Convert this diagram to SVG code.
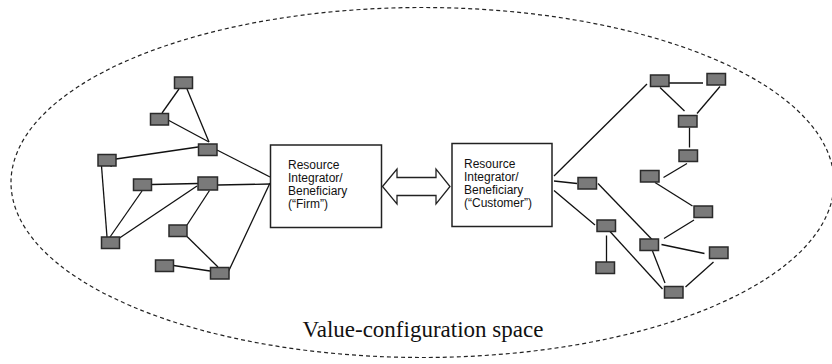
<svg xmlns="http://www.w3.org/2000/svg" width="832" height="364" viewBox="0 0 832 364">
<style>
.n{fill:#7a7a7a;stroke:#2a2a2a;stroke-width:1.5}
.e line{stroke:#111;stroke-width:1.3}
.box{fill:#fff;stroke:#222;stroke-width:1.5}
.t{font-family:"Liberation Sans",Arial,sans-serif;font-size:12px;fill:#111}
</style>
<ellipse id="space" cx="422.5" cy="182.5" rx="411.5" ry="175" fill="none" stroke="#222" stroke-width="1.2" stroke-dasharray="4,3"/>
<g id="connectors" class="e">
<line x1="179" y1="89" x2="162" y2="113"/>
<line x1="187" y1="89" x2="209" y2="142"/>
<line x1="168" y1="120" x2="209" y2="142"/>
<line x1="217" y1="150" x2="270" y2="177"/>
<line x1="116" y1="159" x2="198" y2="147"/>
<line x1="101.5" y1="166" x2="107" y2="237"/>
<line x1="112" y1="160" x2="111" y2="167"/>
<line x1="152" y1="184.5" x2="198" y2="183.5"/>
<line x1="218" y1="185" x2="270" y2="184"/>
<line x1="142" y1="191" x2="110" y2="237"/>
<line x1="197" y1="186" x2="119.5" y2="238"/>
<line x1="209.5" y1="190.5" x2="187" y2="225"/>
<line x1="187" y1="236.5" x2="218" y2="267"/>
<line x1="173.5" y1="265.5" x2="210" y2="271"/>
<line x1="227.5" y1="273.5" x2="270" y2="183"/>
<line x1="227.7" y1="267" x2="227.7" y2="273.5"/>
<line x1="554" y1="176" x2="647" y2="84"/>
<line x1="669" y1="83" x2="703" y2="83"/>
<line x1="660" y1="87.5" x2="684.5" y2="111"/>
<line x1="720" y1="86.5" x2="697" y2="113.5"/>
<line x1="689.5" y1="127.5" x2="689.5" y2="147.5"/>
<line x1="687" y1="163.5" x2="663.5" y2="177.5"/>
<line x1="655" y1="182.5" x2="692.5" y2="206"/>
<line x1="694" y1="220" x2="664" y2="238.5"/>
<line x1="661.5" y1="244.5" x2="704.5" y2="253.5"/>
<line x1="652.5" y1="251" x2="665" y2="283"/>
<line x1="713.5" y1="262" x2="685.5" y2="287"/>
<line x1="554" y1="181" x2="577" y2="183.5"/>
<line x1="598" y1="183.5" x2="652" y2="239.5"/>
<line x1="554" y1="190.5" x2="595" y2="225"/>
<line x1="606.5" y1="235.5" x2="606.5" y2="262"/>
<line x1="610" y1="231.5" x2="662.5" y2="289"/>
</g>
<g id="n-l1"><rect class="n" x="174.5" y="77" width="18" height="11.5"/></g>
<g id="n-l2"><rect class="n" x="150.5" y="113.5" width="18" height="11.5"/></g>
<g id="n-l3"><rect class="n" x="198.5" y="144" width="18.5" height="11.5"/></g>
<g id="n-l4"><rect class="n" x="98" y="154.5" width="18" height="11.5"/></g>
<g id="n-l5"><rect class="n" x="133.5" y="179" width="18" height="11.5"/></g>
<g id="n-l6"><rect class="n" x="198" y="177" width="19.5" height="13"/></g>
<g id="n-l7"><rect class="n" x="101.5" y="237" width="18" height="11.5"/></g>
<g id="n-l8"><rect class="n" x="169" y="225" width="18" height="11.5"/></g>
<g id="n-l9"><rect class="n" x="155.5" y="260" width="18" height="11.5"/></g>
<g id="n-l10"><rect class="n" x="210.5" y="267.5" width="18.5" height="11.5"/></g>
<g id="n-r1"><rect class="n" x="650.5" y="75" width="18.5" height="11.5"/></g>
<g id="n-r2"><rect class="n" x="707" y="73.5" width="18.5" height="11.5"/></g>
<g id="n-r3"><rect class="n" x="678.5" y="115.5" width="18.5" height="11.5"/></g>
<g id="n-r4"><rect class="n" x="679" y="150" width="18.5" height="11.5"/></g>
<g id="n-r5"><rect class="n" x="640.5" y="170.5" width="18.5" height="11.5"/></g>
<g id="n-r6"><rect class="n" x="578" y="177.5" width="18.5" height="11.5"/></g>
<g id="n-r7"><rect class="n" x="694" y="206" width="18.5" height="11.5"/></g>
<g id="n-r8"><rect class="n" x="597" y="220" width="18.5" height="11.5"/></g>
<g id="n-r9"><rect class="n" x="640" y="239" width="18.5" height="11.5"/></g>
<g id="n-r10"><rect class="n" x="709.5" y="247" width="18.5" height="11.5"/></g>
<g id="n-r11"><rect class="n" x="596" y="262" width="18.5" height="11.5"/></g>
<g id="n-r12"><rect class="n" x="664.5" y="286.5" width="18.5" height="11.5"/></g>
<g id="firm">
<rect class="box" x="270.5" y="145" width="111" height="82.5"/>
<text class="t" x="288" y="169">Resource</text>
<text class="t" x="288" y="182">Integrator/</text>
<text class="t" x="288" y="195">Beneficiary</text>
<text class="t" x="288" y="208">(“Firm”)</text>
</g>
<g id="customer">
<rect class="box" x="452" y="143.5" width="100" height="83"/>
<text class="t" x="464" y="168">Resource</text>
<text class="t" x="464" y="181">Integrator/</text>
<text class="t" x="464" y="194">Beneficiary</text>
<text class="t" x="464" y="207">(“Customer”)</text>
</g>
<g id="exchange">
<path d="M382.5,186.5 L397,169 L397,177.5 L436,177.5 L436,169 L450,186.5 L436,204 L436,195.5 L397,195.5 L397,204 Z" fill="#fff" stroke="#222" stroke-width="1.3" stroke-linejoin="miter"/>
</g>
<text id="label" x="423" y="337" text-anchor="middle" font-family="'Liberation Serif','Times New Roman',serif" font-size="23" fill="#111">Value-configuration space</text>
</svg>
